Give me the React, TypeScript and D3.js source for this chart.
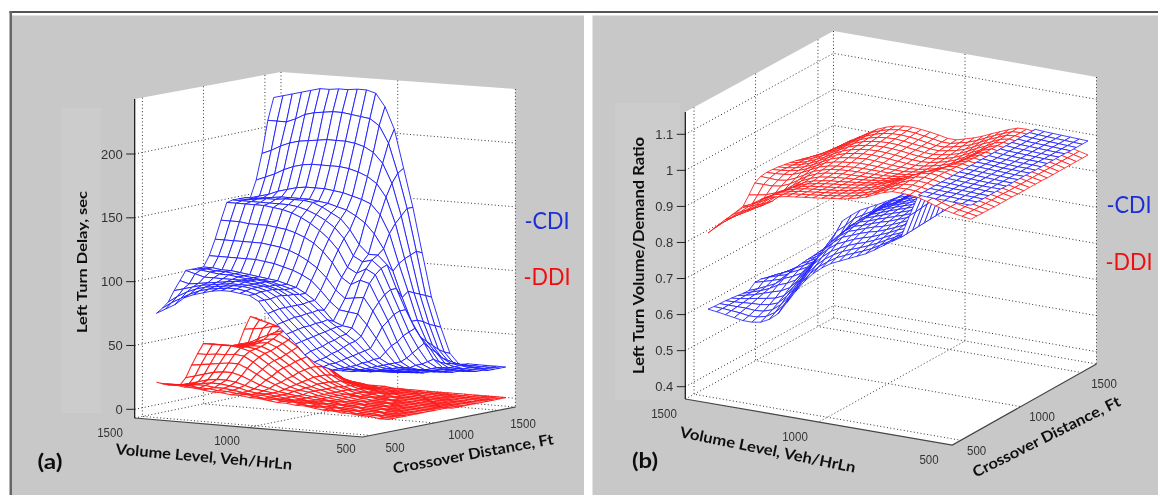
import React from "react";
import * as d3 from "d3";

// ---------- Panel (a): left turn delay, sec. Rows follow crossover distance, columns follow volume level.
const delayTicks = [0, 50, 100, 150, 200];
const volumeTicks = ["500", "1000", "1500"];
const crossoverTicks = ["500", "1000", "1500"];

const delayCDI = [
  [40,40,39,39,38,38,38,40,43,48,56,63,70,78,87,91,92,93,93,92,90,88,85,79,75,71],
  [39,39,39,38,38,38,38,41,44,50,57,64,71,79,87,91,93,94,94,93,92,90,87,83,79,74],
  [38,38,38,38,37,37,38,41,45,51,58,65,72,80,87,92,94,95,95,94,93,92,90,87,83,78],
  [37,37,37,36,36,36,38,42,47,52,59,66,73,80,88,92,94,95,95,95,94,93,92,90,88,86],
  [36,36,36,35,35,36,38,43,48,54,60,66,73,80,88,92,94,95,96,96,95,94,93,92,91,93],
  [35,35,35,35,35,36,39,44,50,55,61,67,74,80,87,91,93,95,96,96,96,96,96,96,98,100],
  [34,34,34,34,35,36,39,45,52,57,62,67,74,80,87,90,93,95,96,96,97,98,98,99,100,100],
  [34,34,34,34,34,36,40,46,53,58,63,68,75,81,86,90,92,94,95,96,97,98,99,99,100,100],
  [33,33,33,33,34,36,40,47,56,62,63,66,74,81,86,90,92,94,95,96,97,98,99,99,100,100],
  [32,32,32,32,33,36,44,54,64,72,73,74,80,88,95,99,102,104,106,107,108,108,108,108,108,108],
  [31,31,31,31,32,36,48,62,74,84,83,82,88,97,104,109,113,116,118,119,120,120,120,120,120,120],
  [30,30,30,30,33,38,50,66,80,94,96,92,97,108,116,122,126,129,131,132,133,133,133,134,134,134],
  [30,30,30,30,33,41,54,70,85,100,104,100,104,117,125,131,136,140,143,145,146,147,147,147,147,147],
  [29,29,29,30,34,44,56,72,88,104,110,108,112,125,133,138,142,145,147,148,148,148,148,148,148,148],
  [28,28,28,29,35,47,58,72,88,106,113,113,120,131,139,143,147,150,151,151,151,150,150,149,148,148],
  [27,27,28,28,32,42,50,62,80,100,117,128,136,141,145,147,149,150,151,151,151,151,150,149,148,148],
  [27,27,27,28,30,38,46,62,84,105,128,142,150,153,155,157,158,159,159,159,158,156,154,151,149,147],
  [26,27,27,28,29,33,42,60,82,108,135,155,165,170,173,175,176,176,176,176,175,173,170,166,163,160],
  [26,26,26,27,28,30,38,57,80,110,140,165,180,188,192,194,195,195,195,194,193,192,190,187,183,180],
  [26,26,26,26,26,27,35,55,78,112,145,172,195,208,213,214,215,216,216,215,214,212,208,205,205,205],
  [26,26,26,26,26,25,33,53,76,110,145,175,205,222,232,234,234,233,233,232,232,230,228,226,224,222],
];

const delayDDI = [
  [3,3,4,4,5,5,6,6,7,8,8,9,9,10,11,11,12,12,13,13,14,15,15,16,16,17],
  [3,3,4,4,4,5,5,6,7,7,8,9,9,10,10,11,12,12,13,13,14,14,15,15,15,15],
  [3,3,3,4,4,5,5,6,6,7,8,8,9,9,10,11,11,12,13,14,14,15,15,14,14,13],
  [3,3,3,4,4,4,5,5,6,7,7,8,8,9,10,11,11,12,14,15,16,16,15,14,13,12],
  [3,3,3,3,4,4,5,5,6,6,7,7,8,9,10,11,12,13,15,17,18,18,17,15,13,11],
  [3,3,3,3,4,4,4,5,5,6,7,7,8,9,10,11,13,15,18,21,23,23,22,20,18,16],
  [3,3,3,3,3,4,4,5,5,6,6,7,8,9,11,12,15,18,22,26,29,29,28,27,26,25],
  [3,3,3,3,3,4,4,4,5,5,6,7,8,10,11,13,16,20,25,30,34,35,34,34,33,33],
  [3,3,3,3,3,3,4,4,5,5,6,7,8,10,12,14,18,23,28,33,37,39,40,40,40,40],
  [3,3,3,3,3,3,4,4,4,5,6,7,8,10,12,15,19,25,30,35,38,39,39,39,39,39],
  [3,3,3,3,3,3,3,4,4,5,6,7,8,10,13,16,21,26,31,36,39,39,38,38,37,37],
  [2,2,3,3,3,3,3,4,4,5,5,6,8,10,13,17,22,28,33,38,41,40,38,37,36,35],
  [2,2,2,3,3,3,3,3,4,4,5,6,8,10,13,17,23,29,35,40,43,42,39,37,35,34],
  [2,2,2,2,3,3,3,3,4,4,5,6,7,9,12,17,23,30,37,42,46,45,42,38,36,34],
  [2,2,2,2,2,3,3,3,3,4,5,5,7,9,12,16,22,30,38,45,48,46,42,38,35,34],
  [2,2,2,2,2,2,3,3,3,4,4,5,6,8,10,14,20,28,36,43,47,49,49,47,46,45],
  [2,2,2,2,2,2,2,3,3,3,4,4,5,6,8,11,16,22,30,38,43,46,48,50,52,54],
  [2,2,2,2,2,2,2,2,3,3,3,4,4,5,6,8,12,17,23,30,36,40,43,45,48,52],
  [2,2,2,2,2,2,2,2,2,3,3,3,3,4,5,6,8,12,16,21,26,31,35,39,43,48],
  [2,2,2,2,2,2,2,2,2,2,2,3,3,3,4,5,6,8,11,16,21,27,32,37,40,43],
  [2,2,2,2,2,2,2,2,2,2,2,2,2,3,3,3,4,4,5,7,9,13,18,25,31,38],
];

// ---------- Panel (b): left turn volume/demand ratio, in thousandths.
const ratioTicks = [0.4, 0.5, 0.6, 0.7, 0.8, 0.9, 1, 1.1];

// one list per crossover distance, running along volume level
const ratioDDI = [
  [964,968,972,977,984,992,999,1002,1003,1003,996,986,975,968,962,958,955,951,948,945,942,939,934,930,918,902,888,866,846,823,800],
  [964,968,972,977,984,993,1000,1004,1005,1004,996,986,975,967,961,956,953,949,946,943,940,937,932,927,915,898,882,862,843,824,803],
  [963,968,972,977,985,993,1001,1005,1007,1005,997,986,974,966,960,955,951,947,944,941,938,935,930,924,912,893,876,858,840,824,807],
  [963,967,972,978,985,994,1002,1007,1009,1006,997,986,974,966,959,953,949,945,942,939,936,933,928,921,909,889,870,854,837,824,810],
  [962,967,972,978,986,994,1003,1008,1010,1007,998,986,973,965,957,951,947,943,940,937,934,931,926,919,906,885,865,849,834,824,813],
  [962,967,972,978,986,995,1004,1010,1012,1008,998,986,973,964,956,950,946,942,939,936,933,929,924,916,903,882,860,845,832,824,816],
  [962,967,972,978,986,995,1004,1010,1010,1004,993,981,969,960,953,947,943,940,937,934,932,928,923,915,902,884,864,851,839,829,820],
  [962,967,972,978,986,995,1003,1008,1007,999,987,975,964,956,949,944,941,938,936,934,932,929,925,917,906,889,872,860,851,846,842],
  [961,966,971,977,985,994,1003,1007,1004,994,981,969,958,950,945,941,938,936,935,934,933,930,927,920,910,895,880,870,866,866,866],
  [961,966,971,977,985,994,1002,1006,1001,988,974,963,953,946,941,938,936,935,934,934,933,931,928,922,914,900,887,877,873,874,875],
  [961,966,971,977,985,994,1002,1005,998,982,968,957,948,942,938,935,934,934,934,934,933,931,928,924,917,905,893,884,880,878,877],
  [961,966,971,977,985,994,1001,1004,996,980,965,954,945,940,936,933,933,933,934,935,935,933,930,926,919,907,895,886,881,878,876],
  [961,966,971,977,985,993,1000,1003,995,979,964,952,944,939,934,932,932,933,935,937,938,936,933,929,921,909,897,887,880,876,874],
  [960,966,971,977,985,993,1000,1002,994,979,965,953,945,939,934,932,933,935,937,939,940,939,936,931,923,911,899,888,880,874,871],
  [960,966,971,977,985,993,999,1002,994,980,967,955,946,940,935,933,934,936,939,941,942,941,938,933,925,913,900,889,879,872,868],
  [960,966,971,978,985,993,999,1002,994,981,970,958,948,941,936,934,935,938,941,943,944,943,940,935,927,915,902,890,879,871,864],
  [960,966,971,978,985,993,999,1002,996,983,973,961,950,943,938,935,936,939,942,945,946,945,942,937,928,916,903,890,879,869,859],
  [960,966,972,978,985,993,999,1002,997,986,976,964,953,945,940,936,937,940,943,946,948,947,944,938,929,917,903,890,877,865,853],
  [960,966,972,978,986,993,999,1002,999,989,979,967,956,948,942,937,937,941,945,948,950,949,946,939,930,917,903,889,875,860,847],
  [960,966,972,979,986,993,999,1002,1000,991,981,970,959,950,944,938,938,942,946,950,952,951,947,940,931,917,902,889,873,855,840],
  [960,966,972,979,986,993,999,1002,1001,993,983,973,962,953,946,939,939,944,948,951,953,952,948,941,931,917,902,888,871,851,834],
];

// one list per volume level, running along crossover distance
const ratioCDI = [
  [1003,1003,1002,1002,1002,1002,1001,1001,1001,1001,1001,1000,1000,1000,1000,1000,1000,999,999,999,999],
  [1003,1003,1003,1002,1002,1002,1002,1001,1001,1001,1001,1001,1001,1001,1000,1000,1000,1000,1000,1000,1000],
  [1003,1003,1003,1003,1003,1002,1002,1002,1002,1002,1002,1001,1001,1001,1001,1001,1001,1001,1001,1001,1001],
  [1004,1004,1004,1004,1003,1003,1003,1003,1003,1003,1002,1002,1002,1002,1002,1002,1002,1002,1002,1002,1002],
  [1004,1004,1004,1004,1004,1004,1004,1004,1004,1004,1004,1003,1003,1003,1003,1003,1003,1003,1003,1003,1003],
  [1005,1005,1005,1005,1005,1005,1005,1005,1005,1005,1005,1004,1004,1004,1004,1004,1004,1004,1004,1004,1004],
  [1006,1006,1006,1006,1006,1006,1006,1006,1006,1006,1006,1006,1006,1006,1006,1006,1006,1006,1006,1006,1006],
  [945,946,948,950,952,953,955,955,955,955,955,955,955,955,955,955,955,955,955,955,955],
  [880,881,882,883,884,885,886,887,887,888,888,888,888,888,888,888,888,888,888,888,888],
  [865,866,868,870,872,874,876,878,879,880,880,880,880,880,880,880,880,880,880,878,876],
  [849,851,854,857,860,863,866,869,871,872,873,873,873,873,873,873,872,871,870,868,866],
  [833,837,842,847,852,856,860,863,865,866,867,867,867,867,866,865,864,863,862,860,858],
  [818,823,829,835,840,845,850,854,857,859,861,862,862,861,860,859,858,857,855,853,850],
  [807,812,818,824,830,835,840,845,848,851,853,854,854,854,853,852,851,850,848,846,843],
  [796,802,808,814,820,826,831,836,840,843,845,846,846,846,845,844,843,842,841,839,836],
  [785,792,799,806,813,820,825,829,832,835,837,838,838,838,837,836,835,834,833,831,828],
  [774,781,789,797,805,812,817,821,824,827,829,830,830,829,829,828,827,826,825,823,820],
  [758,766,776,785,794,802,808,812,815,818,820,821,821,820,820,819,818,817,816,815,812],
  [738,748,760,772,783,793,800,805,808,810,811,812,811,809,806,804,802,801,801,802,804],
  [712,725,738,752,765,775,783,789,793,796,797,797,796,794,792,790,789,788,787,787,788],
  [680,695,711,727,741,752,761,767,771,774,776,776,775,774,773,772,772,771,771,771,772],
  [645,660,676,692,705,716,725,732,738,743,747,750,752,754,756,758,760,761,762,763,764],
  [610,625,641,657,671,683,694,703,711,718,724,729,733,736,739,742,744,746,747,748,748],
  [590,600,613,627,641,654,666,675,684,692,699,705,710,714,717,720,722,724,727,731,735],
  [578,585,594,604,615,628,640,650,658,663,665,668,672,676,680,685,690,695,703,712,722],
  [574,579,586,595,604,615,627,637,645,650,653,655,658,660,664,668,673,679,687,698,710],
  [574,578,584,591,599,608,618,627,634,638,641,643,644,646,648,652,657,663,671,684,698],
  [578,582,586,590,595,600,604,608,612,615,617,618,619,620,621,621,623,630,640,660,680],
  [582,584,586,588,590,592,594,597,604,608,608,605,603,602,601,600,600,606,620,640,660],
  [586,586,586,586,586,586,586,586,597,600,597,592,587,582,580,582,582,582,590,602,610],
  [589,587,586,585,583,581,578,577,590,590,585,578,572,566,563,566,565,562,560,558,557],
];

// ---------- Geometry
type Pt = [number, number];
const BLUE = "#1c1cff";
const RED = "#ff1414";
const line = d3.line<Pt>();

interface Panel {
  L: Pt; B: Pt; R: Pt; F: Pt; TL: Pt; TB: Pt; TR: Pt;
  zPx: d3.ScaleLinear<number, number>;
  zRef: number;
  ticks: number[]; fmt: (v: number) => string;
  cTicks: number[]; vTicks: number[];
  meshX: [number, number, number];
  meshY: [number, number, number];
  depth: [number, number, number];
  surfaces: { grid: number[][]; color: string; width: number }[];
  tickLen: number;
}

const panelA: Panel = {
  L: [134.7, 418], B: [281, 388], R: [515.4, 407], F: [362.6, 437],
  TL: [134.7, 99], TB: [281, 72], TR: [515.4, 89],
  zPx: d3.scaleLinear([0, 200], [409.3, 154]),
  zRef: 0,
  ticks: delayTicks, fmt: String,
  cTicks: [0.0526, 0.47, 0.89], vTicks: [0.502],
  meshX: [388.5, -232, 117.2], meshY: [423.2, -19.3, -23],
  depth: [19.3, 23, -0.0212],
  surfaces: [
    { grid: d3.transpose(delayDDI) as number[][], color: RED, width: 1.1 },
    { grid: d3.transpose(delayCDI) as number[][], color: BLUE, width: 1 },
  ],
  tickLen: 8.5,
};

const panelB: Panel = {
  L: [685.3, 399], B: [833.5, 318], R: [1096.5, 364], F: [952.3, 445],
  TL: [685.3, 112], TB: [833.5, 31], TR: [1096.5, 77],
  zPx: d3.scaleLinear([400, 1100], [386.7, 134.3]),
  zRef: 367,
  ticks: ratioTicks.map((t) => t * 1000), fmt: (v) => String(+(v / 1000).toFixed(1)),
  cTicks: [0.0587, 0.474, 0.895], vTicks: [0.5],
  meshX: [971, -263, 117], meshY: [434.5, -45.3, -65.7],
  depth: [45.3, 65.7, -0.0379],
  surfaces: [
    { grid: d3.transpose(ratioDDI) as number[][], color: RED, width: 0.9 },
    { grid: ratioCDI, color: BLUE, width: 0.9 },
  ],
  tickLen: 8.5,
};

function PanelDraw({ p }: { p: Panel }) {
  const { L, B, R, F, TL, TB, TR, zPx } = p;
  const floorY0 = zPx.invert(L[1]);
  const lift = (v: number) => zPx(v) - zPx(floorY0);
  const bilerp = (vf: number, cf: number): Pt => {
    const p0: Pt = [F[0] + (L[0] - F[0]) * vf, F[1] + (L[1] - F[1]) * vf];
    const p1: Pt = [R[0] + (B[0] - R[0]) * vf, R[1] + (B[1] - R[1]) * vf];
    return [p0[0] + (p1[0] - p0[0]) * cf, p0[1] + (p1[1] - p0[1]) * cf];
  };
  const grid: Pt[][] = [];
  p.ticks.forEach((t) => {
    const d = lift(t);
    grid.push([[L[0], L[1] + d], [B[0], B[1] + d], [R[0], R[1] + d]]);
  });
  p.cTicks.forEach((c) => {
    const a = bilerp(1, c);
    const t: Pt = [L[0] + (B[0] - L[0]) * c, TL[1] + (TB[1] - TL[1]) * c];
    grid.push([t, a, bilerp(0, c)]);
  });
  p.vTicks.forEach((v) => {
    const a = bilerp(v, 1);
    const t: Pt = [a[0], TR[1] + (TB[1] - TR[1]) * v];
    grid.push([t, a, bilerp(v, 0)]);
  });
  grid.push([TB, B]);
  grid.push([TR, R]);
  grid.push([L, B]);
  grid.push([B, R]);

  const sA = d3.scaleLinear([0, 1], [0, p.meshX[1]]);
  const sB = d3.scaleLinear([0, 1], [0, p.meshX[2]]);
  const tA = d3.scaleLinear([0, 1], [0, p.meshY[1]]);
  const tB = d3.scaleLinear([0, 1], [0, p.meshY[2]]);
  const proj = (a: number, b: number, z: number): Pt => [
    p.meshX[0] + sA(a) + sB(b),
    p.meshY[0] + tA(a) + tB(b) + (zPx(z) - zPx(p.zRef)),
  ];
  const cells: { d: string; color: string; width: number; depth: number }[] = [];
  p.surfaces.forEach(({ grid: g, color, width }) => {
    const n = g.length - 1;
    g.slice(0, n).forEach((rowI, i) => {
      const m = rowI.length - 1;
      rowI.slice(0, m).forEach((_, j) => {
        const corners: [number, number, number][] = [
          [i / n, j / m, g[i][j]],
          [(i + 1) / n, j / m, g[i + 1][j]],
          [(i + 1) / n, (j + 1) / m, g[i + 1][j + 1]],
          [i / n, (j + 1) / m, g[i][j + 1]],
        ];
        const pts = corners.map((c) => proj(c[0], c[1], c[2]));
        const depth = d3.mean(corners, (c) => p.depth[0] * c[0] + p.depth[1] * c[1] + p.depth[2] * c[2]) as number;
        cells.push({ d: (line(pts) as string) + "Z", color, width, depth });
      });
    });
  });
  cells.sort((x, y) => y.depth - x.depth);

  return (
    <g>
      <path d={(line([L, TL, TB, TR, R, F]) as string) + "Z"} fill="#fff" />
      {grid.map((g, i) => (
        <path key={i} d={line(g) as string} fill="none" stroke="#333" strokeWidth={1} strokeDasharray="1 2.4" />
      ))}
      {cells.map((c, i) => (
        <path key={i} d={c.d} fill="#fff" stroke={c.color} strokeWidth={c.width} strokeOpacity={0.9} />
      ))}
      <path d={line([TL, L]) as string} stroke="#111" strokeWidth={1.2} fill="none" />
      <path d={line([L, F, R]) as string} stroke="#444" strokeWidth={1.2} fill="none" />
      {p.ticks.map((t) => (
        <g key={t}>
          <path d={line([[L[0] - p.tickLen, zPx(t)], [L[0], zPx(t)]]) as string} stroke="#222" fill="none" />
          <text x={L[0] - p.tickLen - 3.5} y={zPx(t)} textAnchor="end" dominantBaseline="central"
            fontFamily="Liberation Sans" fontSize={13} fill="#333">{p.fmt(t)}</text>
        </g>
      ))}
    </g>
  );
}

const T = ({ x, y, r = 0, len, size, bold, color = "#111", children }: any) => (
  <text transform={`translate(${x},${y}) rotate(${r})`} textAnchor="middle" dominantBaseline="central"
    fontFamily="Lato" fontWeight={bold ? 700 : 400} fontSize={size} fill={color}
    textLength={len} lengthAdjust="spacingAndGlyphs">{children}</text>
);
const Tick = ({ x, y, children }: any) => (
  <text x={x} y={y} textAnchor="middle" dominantBaseline="central" fontFamily="Liberation Sans" fontSize={13}
    fill="#333" textLength={children.length * 6.4} lengthAdjust="spacingAndGlyphs">{children}</text>
);

export default function App() {
  return (
    <svg width={1158} height={495} style={{ position: "absolute", left: 0, top: 0, display: "block" }}>
      <defs>
        <filter id="soft" x="0" y="0" width="100%" height="100%">
          <feGaussianBlur stdDeviation="0.35" />
        </filter>
      </defs>
      <rect width={1158} height={495} fill="#fff" />
      <g filter="url(#soft)">
        <rect x={9.5} y={11} width={1148.5} height={2} fill="#555" />
        <rect x={9.5} y={11} width={2.5} height={484} fill="#666" />
        <rect x={12} y={15.5} width={572} height={479.5} fill="#c8c8c8" />
        <rect x={592.5} y={15.5} width={565.5} height={479.5} fill="#c8c8c8" />
        <rect x={61} y={108} width={40} height={305} fill="#cccccc" />
        <rect x={615} y={103} width={65} height={297} fill="#cccccc" />

        <PanelDraw p={panelA} />
        <PanelDraw p={panelB} />

        <T x={81} y={262} r={-90} len={142} size={14} bold>Left Turn Delay, sec</T>
        <Tick x={110} y={432}>{volumeTicks[2]}</Tick>
        <Tick x={227} y={440}>{volumeTicks[1]}</Tick>
        <Tick x={346} y={448}>{volumeTicks[0]}</Tick>
        <Tick x={395} y={447}>{crossoverTicks[0]}</Tick>
        <Tick x={461} y={434}>{crossoverTicks[1]}</Tick>
        <Tick x={523} y={423}>{crossoverTicks[2]}</Tick>
        <T x={204} y={456} r={5} len={177} size={15} bold>Volume Level, Veh/HrLn</T>
        <T x={473} y={453} r={-10.5} len={163} size={15} bold>Crossover Distance, Ft</T>
        <T x={50} y={461} len={25} size={20} bold>(a)</T>
        <T x={547} y={219} len={45} size={24} color="#1b2fd6">-CDI</T>
        <T x={547} y={275} len={47} size={24} color="#f01010">-DDI</T>

        <T x={638} y={255.5} r={-90} len={237} size={15} bold>Left Turn Volume/Demand Ratio</T>
        <Tick x={664} y={413}>{volumeTicks[2]}</Tick>
        <Tick x={795} y={436}>{volumeTicks[1]}</Tick>
        <Tick x={929} y={459}>{volumeTicks[0]}</Tick>
        <Tick x={976.6} y={450}>{crossoverTicks[0]}</Tick>
        <Tick x={1042} y={416}>{crossoverTicks[1]}</Tick>
        <Tick x={1104} y={383}>{crossoverTicks[2]}</Tick>
        <T x={768} y={449} r={11.5} len={179} size={15} bold>Volume Level, Veh/HrLn</T>
        <T x={1046} y={436} r={-26.5} len={163} size={15} bold>Crossover Distance, Ft</T>
        <T x={645} y={460} len={26} size={20} bold>(b)</T>
        <T x={1129} y={204} len={45} size={23} color="#1b2fd6">-CDI</T>
        <T x={1129} y={261} len={47} size={23} color="#f01010">-DDI</T>
      </g>
    </svg>
  );
}
